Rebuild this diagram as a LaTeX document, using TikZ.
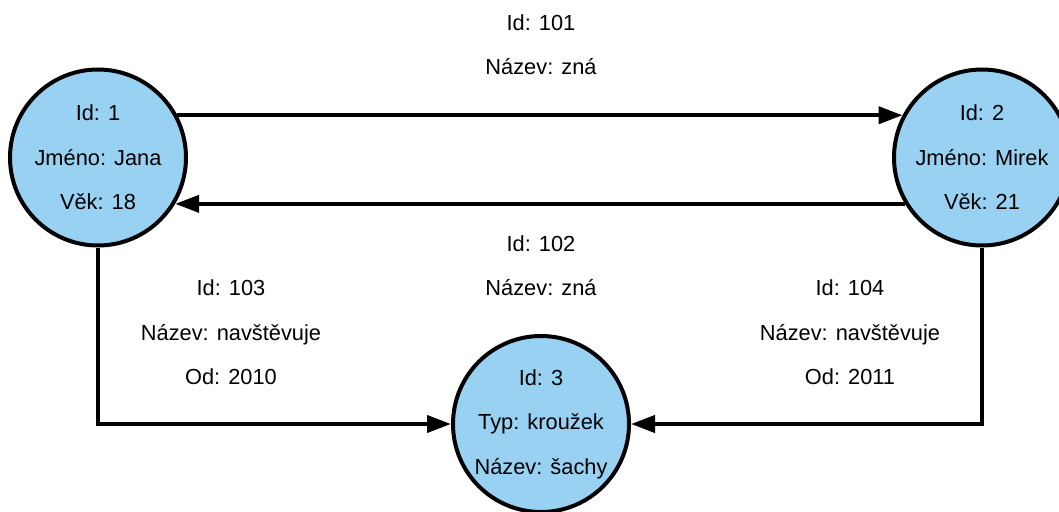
\documentclass[tikz,border=0pt]{standalone}
\usepackage{fontspec}
\setmainfont{Liberation Sans}
\usetikzlibrary{arrows.meta}
\definecolor{uzel}{RGB}{153,209,242}
\tikzset{
	osoba/.style={circle, draw=black, line width=4pt, fill=uzel, minimum size=176pt, inner sep=0pt, align=center, font=\fontsize{21.8}{44.5}\selectfont},
	hrana/.style={line width=4pt, -{Triangle[length=24pt,width=17pt]}},
	popis/.style={align=center, font=\fontsize{21.8}{44.5}\selectfont}
}
\begin{document}
\begin{tikzpicture}[x=1pt,y=-1pt]
	
	\useasboundingbox (0,0) rectangle (1059,511);
	
	%Uzly
	\node[osoba] (jana) at (98,157.5) {Id: 1\\Jméno: Jana\\Věk: 18};
	\node[osoba] (mirek) at (982,157.5) {Id: 2\\Jméno: Mirek\\Věk: 21};
	\node[osoba] (sachy) at (541,424) {Id: 3\\Typ: kroužek\\Název: šachy};
	
	%Hrany
	\draw[hrana] (jana.28) -- (mirek.152);
	\draw[hrana] (mirek.211) -- (jana.-31);
	\draw[hrana] (jana.south) |- (sachy.west);
	\draw[hrana] (mirek.south) |- (sachy.east);
	
	%Popisy hran
	\node[popis] (h101) at (541,44.5) {Id: 101\\Název: zná};
	\node[popis] (h102) at (541,265.5) {Id: 102\\Název: zná};
	\node[popis] (h103) at (231,332.5) {Id: 103\\Název: navštěvuje\\Od: 2010};
	\node[popis] (h104) at (850,332.5) {Id: 104\\Název: navštěvuje\\Od: 2011};
	
\end{tikzpicture}
\end{document}
